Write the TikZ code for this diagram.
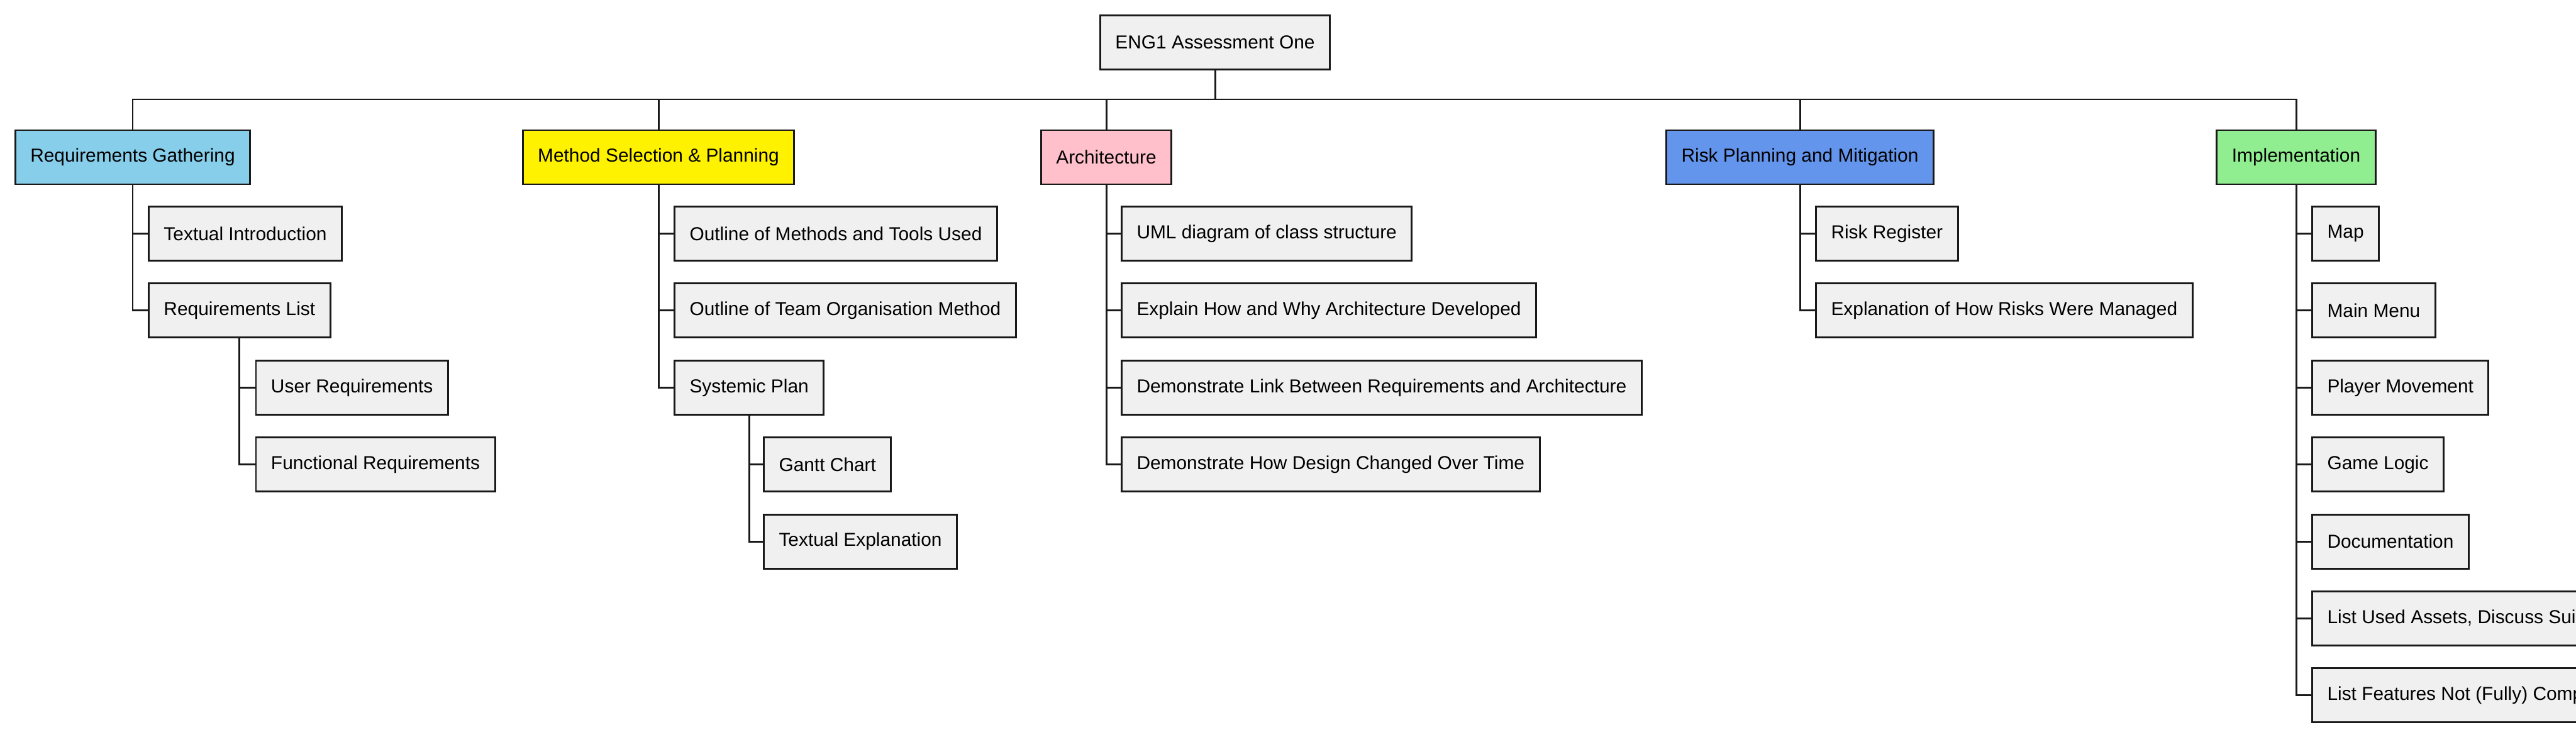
\documentclass[tikz,border=0pt]{standalone}
\usepackage{fontspec}
\setmainfont{Liberation Sans}
\definecolor{leafgray}{HTML}{F0F0F0}
\definecolor{reqblue}{HTML}{87CEEB}
\definecolor{archpink}{HTML}{FFC0CB}
\definecolor{riskblue}{HTML}{6495ED}
\definecolor{implgreen}{HTML}{90EE90}
\begin{document}
\begin{tikzpicture}[x=1cm,y=1cm,
  box/.style={draw=black!90, line width=0.85pt, rectangle, inner xsep=0.24cm, inner ysep=0pt, minimum height=0.86cm, font=\fontsize{8.5}{10}\selectfont},
  leaf/.style={box, fill=leafgray, anchor=west},
  link/.style={draw=black!90, line width=0.85pt}]
\useasboundingbox (0,0) rectangle (40.96,-11.72);
\node[box, fill=leafgray] (eng) at (19.32,-0.675) {ENG1 Assessment One} ;
\coordinate (bus) at (19.32,-1.58) ;
\node[box, fill=reqblue] (req) at (2.11,-2.50) {Requirements Gathering} ;
\node[box, fill=yellow] (msp) at (10.47,-2.50) {Method Selection \& Planning} ;
\node[box, fill=archpink] (arch) at (17.59,-2.50) {Architecture} ;
\node[box, fill=riskblue] (risk) at (28.62,-2.50) {Risk Planning and Mitigation} ;
\node[box, fill=implgreen] (impl) at (36.51,-2.50) {Implementation} ;
% requirements
\node[leaf] (tintro) at (2.35,-3.715) {Textual Introduction} ;
\node[leaf] (rlist) at (2.35,-4.939) {Requirements List} ;
\node[leaf] (ureq) at (4.055,-6.163) {User Requirements} ;
\node[leaf] (freq) at (4.055,-7.387) {Functional Requirements} ;
% method selection
\node[leaf] (methods) at (10.71,-3.715) {Outline of Methods and Tools Used} ;
\node[leaf] (team) at (10.71,-4.939) {Outline of Team Organisation Method} ;
\node[leaf] (splan) at (10.71,-6.163) {Systemic Plan} ;
\node[leaf] (gantt) at (12.13,-7.387) {Gantt Chart} ;
\node[leaf] (texpl) at (12.13,-8.611) {Textual Explanation} ;
% architecture
\node[leaf] (uml) at (17.82,-3.715) {UML diagram of class structure} ;
\node[leaf] (howwhy) at (17.82,-4.939) {Explain How and Why Architecture Developed} ;
\node[leaf] (link) at (17.82,-6.163) {Demonstrate Link Between Requirements and Architecture} ;
\node[leaf] (design) at (17.82,-7.387) {Demonstrate How Design Changed Over Time} ;
% risk
\node[leaf] (register) at (28.86,-3.715) {Risk Register} ;
\node[leaf] (managed) at (28.86,-4.939) {Explanation of How Risks Were Managed} ;
% implementation
\node[leaf] (map) at (36.75,-3.715) {Map} ;
\node[leaf] (menu) at (36.75,-4.939) {Main Menu} ;
\node[leaf] (movement) at (36.75,-6.163) {Player Movement} ;
\node[leaf] (logic) at (36.75,-7.387) {Game Logic} ;
\node[leaf] (docs) at (36.75,-8.611) {Documentation} ;
\node[leaf] (assets) at (36.75,-9.835) {List Used Assets, Discuss Suitability} ;
\node[leaf] (features) at (36.75,-11.059) {List Features Not (Fully) Completed} ;
\draw[link] (eng.south) -- (bus) -| (req.north) ;
\draw[link] (bus) -| (msp.north) ;
\draw[link] (bus) -| (arch.north) ;
\draw[link] (bus) -| (risk.north) ;
\draw[link] (bus) -| (impl.north) ;
\draw[link] (req.south) |- (tintro.west) ;
\draw[link] (req.south) |- (rlist.west) ;
\draw[link] (rlist.south) |- (ureq.west) ;
\draw[link] (rlist.south) |- (freq.west) ;
\draw[link] (msp.south) |- (methods.west) ;
\draw[link] (msp.south) |- (team.west) ;
\draw[link] (msp.south) |- (splan.west) ;
\draw[link] (splan.south) |- (gantt.west) ;
\draw[link] (splan.south) |- (texpl.west) ;
\draw[link] (arch.south) |- (uml.west) ;
\draw[link] (arch.south) |- (howwhy.west) ;
\draw[link] (arch.south) |- (link.west) ;
\draw[link] (arch.south) |- (design.west) ;
\draw[link] (risk.south) |- (register.west) ;
\draw[link] (risk.south) |- (managed.west) ;
\draw[link] (impl.south) |- (map.west) ;
\draw[link] (impl.south) |- (menu.west) ;
\draw[link] (impl.south) |- (movement.west) ;
\draw[link] (impl.south) |- (logic.west) ;
\draw[link] (impl.south) |- (docs.west) ;
\draw[link] (impl.south) |- (assets.west) ;
\draw[link] (impl.south) |- (features.west) ;
\end{tikzpicture}
\end{document}
